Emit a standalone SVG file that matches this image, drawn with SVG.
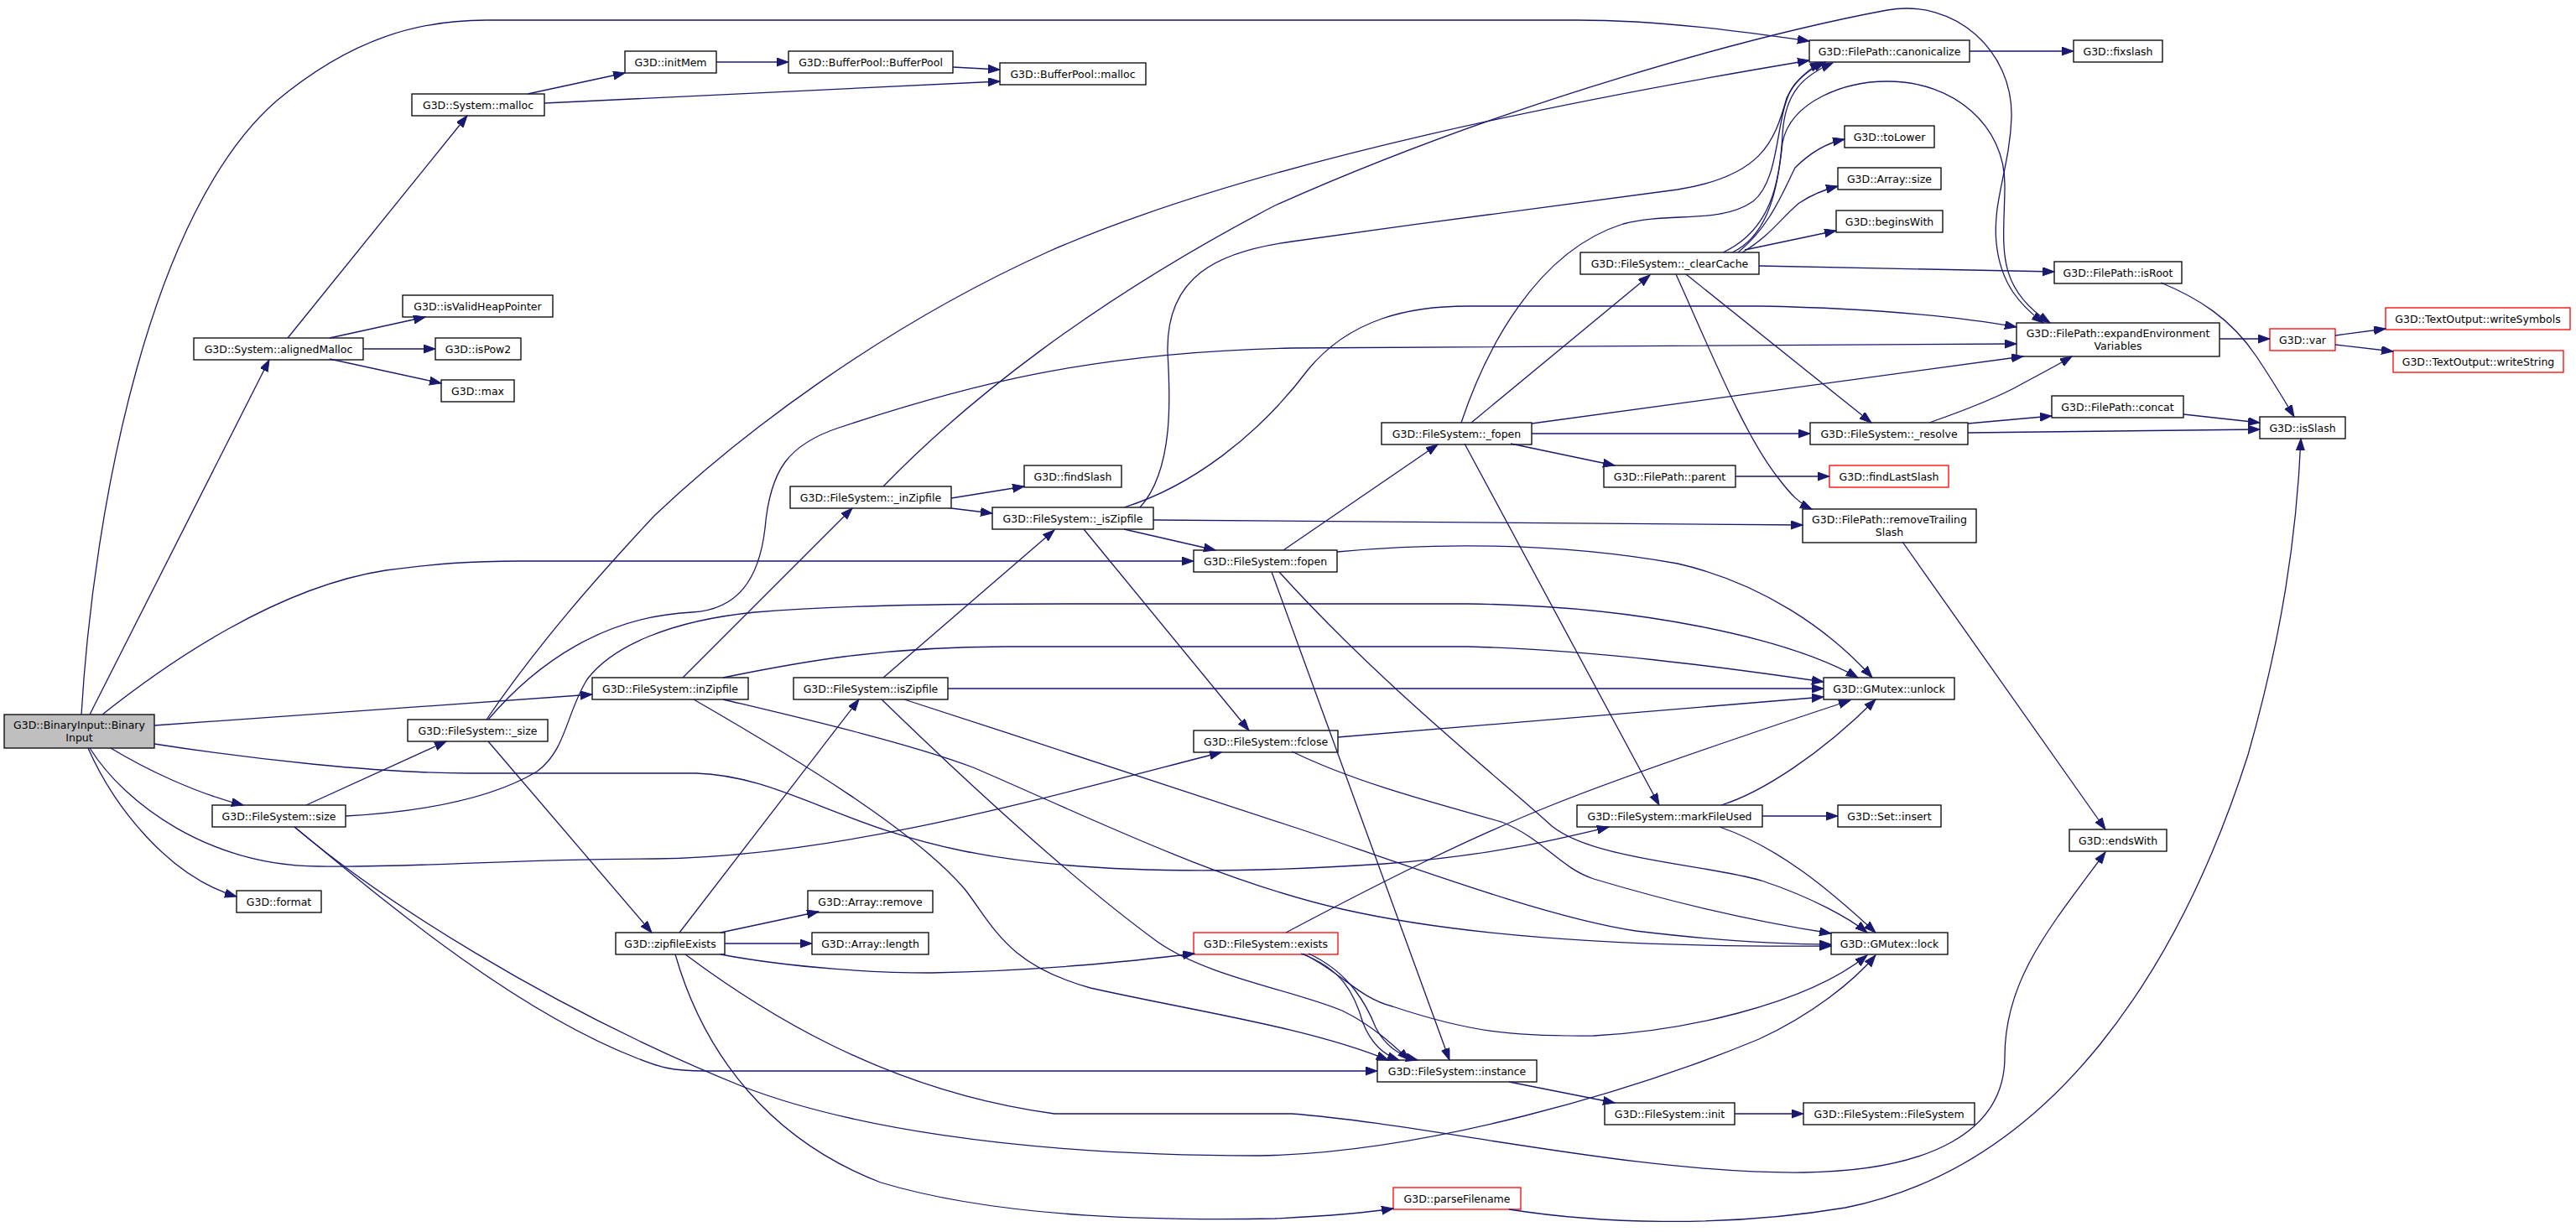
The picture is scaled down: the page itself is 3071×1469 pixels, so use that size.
<svg xmlns="http://www.w3.org/2000/svg" width="3071" height="1469" viewBox="0 0 3071 1469">
<style>
rect{fill:#fff;stroke:#000;stroke-width:1.3}
.r rect{stroke:#f00}
.g rect{fill:#bfbfbf}
text{font-family:"DejaVu Sans","Liberation Sans",sans-serif;font-size:12.5px;text-anchor:middle;fill:#000}
#edges path{fill:none;stroke:#191970;stroke-width:1.3;marker-end:url(#a)}
</style>
<defs>
<marker id="a" markerUnits="userSpaceOnUse" markerWidth="15" markerHeight="11" refX="14" refY="5" orient="auto"><path d="M0,0L14,5L0,10z" fill="#191970" stroke="#191970" stroke-width="1"/></marker>
</defs>
<rect x="0" y="0" width="3071" height="1469" style="fill:#fff;stroke:none"/>
<g id="nodes">
<g id="n1" class="g"><rect x="5" y="852" width="179" height="40"/><text x="94.5" y="869">G3D::BinaryInput::Binary</text><text x="94.5" y="883.5">Input</text></g>
<g id="n2"><rect x="231" y="403" width="202" height="26"/><text x="332" y="420.5">G3D::System::alignedMalloc</text></g>
<g id="n3"><rect x="491" y="112" width="158" height="26"/><text x="570" y="129.5">G3D::System::malloc</text></g>
<g id="n4"><rect x="480" y="352" width="179" height="26"/><text x="569.5" y="369.5">G3D::isValidHeapPointer</text></g>
<g id="n5"><rect x="519" y="403" width="102" height="26"/><text x="570" y="420.5">G3D::isPow2</text></g>
<g id="n6"><rect x="526" y="453" width="87" height="26"/><text x="569.5" y="470.5">G3D::max</text></g>
<g id="n7"><rect x="745" y="61" width="109" height="26"/><text x="799.5" y="78.5">G3D::initMem</text></g>
<g id="n8"><rect x="940" y="61" width="196" height="26"/><text x="1038" y="78.5">G3D::BufferPool::BufferPool</text></g>
<g id="n9"><rect x="1192" y="75" width="174" height="26"/><text x="1279" y="92.5">G3D::BufferPool::malloc</text></g>
<g id="n10"><rect x="2157" y="48" width="191" height="26"/><text x="2252.5" y="65.5">G3D::FilePath::canonicalize</text></g>
<g id="n11"><rect x="2472" y="48" width="106" height="26"/><text x="2525" y="65.5">G3D::fixslash</text></g>
<g id="n12"><rect x="486" y="858" width="167" height="26"/><text x="569.5" y="875.5">G3D::FileSystem::_size</text></g>
<g id="n13"><rect x="253" y="960" width="159" height="26"/><text x="332.5" y="977.5">G3D::FileSystem::size</text></g>
<g id="n14"><rect x="282" y="1062" width="101" height="26"/><text x="332.5" y="1079.5">G3D::format</text></g>
<g id="n15"><rect x="706" y="808" width="186" height="26"/><text x="799" y="825.5">G3D::FileSystem::inZipfile</text></g>
<g id="n16"><rect x="942" y="580" width="192" height="26"/><text x="1038" y="597.5">G3D::FileSystem::_inZipfile</text></g>
<g id="n17"><rect x="1221" y="555" width="116" height="26"/><text x="1279" y="572.5">G3D::findSlash</text></g>
<g id="n18"><rect x="1183" y="605" width="192" height="26"/><text x="1279" y="622.5">G3D::FileSystem::_isZipfile</text></g>
<g id="n19"><rect x="1423" y="656" width="171" height="26"/><text x="1508.5" y="673.5">G3D::FileSystem::fopen</text></g>
<g id="n20"><rect x="1647" y="504" width="179" height="26"/><text x="1736.5" y="521.5">G3D::FileSystem::_fopen</text></g>
<g id="n21"><rect x="1884" y="301" width="213" height="26"/><text x="1990.5" y="318.5">G3D::FileSystem::_clearCache</text></g>
<g id="n22"><rect x="2199" y="150" width="107" height="26"/><text x="2252.5" y="167.5">G3D::toLower</text></g>
<g id="n23"><rect x="2191" y="200" width="123" height="26"/><text x="2252.5" y="217.5">G3D::Array::size</text></g>
<g id="n24"><rect x="2189" y="251" width="127" height="26"/><text x="2252.5" y="268.5">G3D::beginsWith</text></g>
<g id="n25"><rect x="2449" y="312" width="152" height="26"/><text x="2525" y="329.5">G3D::FilePath::isRoot</text></g>
<g id="n26"><rect x="2404" y="385" width="242" height="40"/><text x="2525" y="402">G3D::FilePath::expandEnvironment</text><text x="2525" y="416.5">Variables</text></g>
<g id="n27" class="r"><rect x="2706" y="392" width="78" height="26"/><text x="2745" y="409.5">G3D::var</text></g>
<g id="n28" class="r"><rect x="2844" y="367" width="220" height="26"/><text x="2954" y="384.5">G3D::TextOutput::writeSymbols</text></g>
<g id="n29" class="r"><rect x="2853" y="418" width="203" height="26"/><text x="2954.5" y="435.5">G3D::TextOutput::writeString</text></g>
<g id="n30"><rect x="2158" y="504" width="188" height="26"/><text x="2252" y="521.5">G3D::FileSystem::_resolve</text></g>
<g id="n31"><rect x="2446" y="472" width="157" height="26"/><text x="2524.5" y="489.5">G3D::FilePath::concat</text></g>
<g id="n32"><rect x="2694" y="497" width="102" height="26"/><text x="2745" y="514.5">G3D::isSlash</text></g>
<g id="n33"><rect x="1912" y="555" width="157" height="26"/><text x="1990.5" y="572.5">G3D::FilePath::parent</text></g>
<g id="n34" class="r"><rect x="2181" y="555" width="142" height="26"/><text x="2252" y="572.5">G3D::findLastSlash</text></g>
<g id="n35"><rect x="2149" y="607" width="207" height="40"/><text x="2252.5" y="624">G3D::FilePath::removeTrailing</text><text x="2252.5" y="638.5">Slash</text></g>
<g id="n36"><rect x="946" y="808" width="184" height="26"/><text x="1038" y="825.5">G3D::FileSystem::isZipfile</text></g>
<g id="n37"><rect x="1423" y="871" width="172" height="26"/><text x="1509" y="888.5">G3D::FileSystem::fclose</text></g>
<g id="n38"><rect x="734" y="1112" width="130" height="26"/><text x="799" y="1129.5">G3D::zipfileExists</text></g>
<g id="n39"><rect x="963" y="1062" width="149" height="26"/><text x="1037.5" y="1079.5">G3D::Array::remove</text></g>
<g id="n40"><rect x="968" y="1112" width="139" height="26"/><text x="1037.5" y="1129.5">G3D::Array::length</text></g>
<g id="n41" class="r"><rect x="1423" y="1112" width="172" height="26"/><text x="1509" y="1129.5">G3D::FileSystem::exists</text></g>
<g id="n42"><rect x="2174" y="808" width="156" height="26"/><text x="2252" y="825.5">G3D::GMutex::unlock</text></g>
<g id="n43"><rect x="1880" y="960" width="221" height="26"/><text x="1990.5" y="977.5">G3D::FileSystem::markFileUsed</text></g>
<g id="n44"><rect x="2191" y="960" width="123" height="26"/><text x="2252.5" y="977.5">G3D::Set::insert</text></g>
<g id="n45"><rect x="2183" y="1112" width="139" height="26"/><text x="2252.5" y="1129.5">G3D::GMutex::lock</text></g>
<g id="n46"><rect x="1642" y="1264" width="190" height="26"/><text x="1737" y="1281.5">G3D::FileSystem::instance</text></g>
<g id="n47"><rect x="1913" y="1315" width="155" height="26"/><text x="1990.5" y="1332.5">G3D::FileSystem::init</text></g>
<g id="n48"><rect x="2150" y="1315" width="204" height="26"/><text x="2252" y="1332.5">G3D::FileSystem::FileSystem</text></g>
<g id="n49" class="r"><rect x="1661" y="1416" width="152" height="26"/><text x="1737" y="1433.5">G3D::parseFilename</text></g>
<g id="n50"><rect x="2467" y="989" width="116" height="26"/><text x="2525" y="1006.5">G3D::endsWith</text></g>
</g>
<g id="edges">
<path d="M97,852C112,600 180,250 330,120C420,45 500,24 580,24L1880,24C1980,24 2080,38 2157,49"/>
<path d="M107,852L321,429"/>
<path d="M122,852C200,790 330,700 460,680C520,672 560,669 620,669L1423,669"/>
<path d="M184,865L706,828"/>
<path d="M184,887C300,905 450,922 560,922L830,922C930,925 1000,985 1150,1015C1300,1045 1500,1040 1650,1030C1780,1020 1860,1000 1918,986"/>
<path d="M107,892C150,960 250,1032 380,1033C500,1035 600,1024 780,1024C1000,1022 1250,950 1456,897"/>
<path d="M105,892C135,960 200,1045 282,1069"/>
<path d="M132,892C170,915 230,945 290,960"/>
<path d="M365,960L532,884"/>
<path d="M412,973C500,968 585,953 640,920C675,895 675,850 700,810C730,770 800,740 900,730C1000,722 1100,720 1300,720L1750,720C1950,722 2130,760 2215,808"/>
<path d="M351,986C430,1050 600,1200 760,1262C785,1272 800,1277 840,1277L1642,1277"/>
<path d="M351,986C450,1070 650,1200 884,1295C1000,1340 1200,1378 1500,1378C1700,1375 1950,1300 2097,1239C2160,1210 2210,1170 2236,1139"/>
<path d="M580,858C640,770 710,690 780,615C880,520 1050,390 1250,300C1500,190 1900,115 2157,72"/>
<path d="M582,858C640,790 720,735 825,730C880,727 905,690 912,630C918,560 940,530 1000,510C1150,460 1300,420 1540,415L2404,410"/>
<path d="M582,884L777,1112"/>
<path d="M814,808L1016,606"/>
<path d="M862,808C950,790 1050,771 1200,771L1750,771C1900,775 2050,795 2174,813"/>
<path d="M862,834C950,855 1080,885 1160,915C1300,975 1450,1050 1600,1084C1750,1118 1950,1130 2183,1128"/>
<path d="M827,834C950,905 1090,990 1150,1060C1185,1105 1200,1150 1300,1178C1420,1205 1560,1225 1655,1264"/>
<path d="M1053,808L1257,632"/>
<path d="M1130,821L2174,821"/>
<path d="M1078,834C1250,890 1450,955 1560,992C1700,1040 1850,1095 1950,1110C2050,1122 2120,1126 2183,1126"/>
<path d="M1051,834C1150,930 1280,1050 1380,1123C1440,1165 1540,1180 1600,1205C1635,1222 1660,1245 1680,1264"/>
<path d="M810,1112L1024,834"/>
<path d="M859,1112L976,1087"/>
<path d="M864,1125L968,1125"/>
<path d="M859,1138C950,1155 1050,1160 1110,1160C1250,1157 1350,1146 1424,1137"/>
<path d="M817,1138C900,1200 1050,1300 1257,1328L1540,1328C1700,1340 1950,1400 2150,1398C2300,1396 2390,1350 2390,1260C2390,1170 2440,1110 2510,1016"/>
<path d="M805,1138C840,1260 920,1360 1050,1410C1200,1455 1400,1455 1520,1453C1580,1450 1630,1446 1661,1441"/>
<path d="M1799,1442C1900,1458 2050,1465 2200,1440C2450,1390 2600,1150 2680,900C2720,760 2738,640 2743,523"/>
<path d="M1533,1112C1650,1050 1750,1000 1850,960C1950,920 2100,870 2206,835"/>
<path d="M1553,1137C1600,1160 1620,1190 1660,1200C1750,1230 1800,1236 1900,1235C2000,1230 2150,1200 2226,1139"/>
<path d="M1551,1137C1600,1155 1615,1185 1625,1220C1635,1245 1650,1258 1668,1264"/>
<path d="M1560,1137C1610,1160 1630,1200 1640,1225C1650,1245 1665,1258 1690,1264"/>
<path d="M1530,656L1714,530"/>
<path d="M1594,658C1700,648 1850,645 2000,672C2100,695 2180,750 2232,808"/>
<path d="M1516,682L1728,1264"/>
<path d="M1525,682C1650,820 1790,930 1850,985C1900,1025 2030,1030 2100,1050C2160,1070 2205,1095 2226,1112"/>
<path d="M1340,631L1449,656"/>
<path d="M1595,879L2174,831"/>
<path d="M1540,896C1620,935 1720,960 1790,980C1840,1000 1860,1035 1900,1048C2000,1078 2100,1100 2183,1113"/>
<path d="M1292,631L1489,871"/>
<path d="M1375,620L2149,626"/>
<path d="M1359,605C1400,560 1395,470 1392,420C1390,330 1450,300 1540,288C1700,265 1900,240 2000,226C2100,210 2115,170 2130,117C2140,95 2158,82 2176,74"/>
<path d="M1340,605C1420,580 1500,520 1560,440C1610,380 1680,365 1750,365L2100,365C2250,368 2350,380 2404,390"/>
<path d="M1134,594L1221,580"/>
<path d="M1134,606L1183,612"/>
<path d="M1053,580C1150,480 1300,360 1520,245C1800,120 2100,40 2250,12C2330,-2 2400,60 2398,140C2396,200 2375,240 2380,290C2385,340 2410,365 2436,385"/>
<path d="M1754,504L1967,328"/>
<path d="M1742,504C1770,420 1830,300 1935,267C1990,252 2050,268 2090,240C2125,212 2115,130 2140,100C2150,88 2160,80 2172,75"/>
<path d="M1826,505L2412,425"/>
<path d="M1826,517L2158,517"/>
<path d="M1801,529L1925,555"/>
<path d="M1746,529L1978,960"/>
<path d="M2054,301C2110,275 2122,220 2125,160C2128,110 2150,90 2185,75"/>
<path d="M2072,301C2110,270 2125,230 2140,200C2160,180 2180,170 2199,166"/>
<path d="M2077,301C2110,282 2125,258 2145,242C2160,232 2175,226 2191,222"/>
<path d="M2080,298L2189,275"/>
<path d="M2097,317L2449,324"/>
<path d="M2065,301C2110,280 2120,220 2125,170C2135,120 2200,97 2250,97C2330,97 2390,150 2390,220C2390,290 2375,340 2444,385"/>
<path d="M2010,327L2231,504"/>
<path d="M1998,327C2040,420 2080,520 2120,570C2135,590 2145,600 2160,607"/>
<path d="M2346,505L2446,496"/>
<path d="M2346,516L2694,512"/>
<path d="M2300,504C2340,490 2380,475 2410,458C2430,447 2450,437 2470,425"/>
<path d="M2603,494L2694,504"/>
<path d="M2576,337C2620,355 2660,380 2690,425C2710,455 2725,480 2735,497"/>
<path d="M2646,404L2706,404"/>
<path d="M2784,400L2844,392"/>
<path d="M2784,411L2853,419"/>
<path d="M2069,568L2181,568"/>
<path d="M2268,646L2510,989"/>
<path d="M2348,61L2472,61"/>
<path d="M2101,973L2191,973"/>
<path d="M2052,960C2100,945 2170,900 2236,834"/>
<path d="M2050,986C2120,1010 2180,1060 2236,1112"/>
<path d="M1799,1290L1925,1315"/>
<path d="M2068,1328L2150,1328"/>
<path d="M343,403L557,138"/>
<path d="M393,403L507,378"/>
<path d="M433,416L519,416"/>
<path d="M393,428L526,457"/>
<path d="M629,112L745,87"/>
<path d="M649,123L1192,97"/>
<path d="M854,74L940,74"/>
<path d="M1136,80L1192,83"/>
</g>
</svg>
